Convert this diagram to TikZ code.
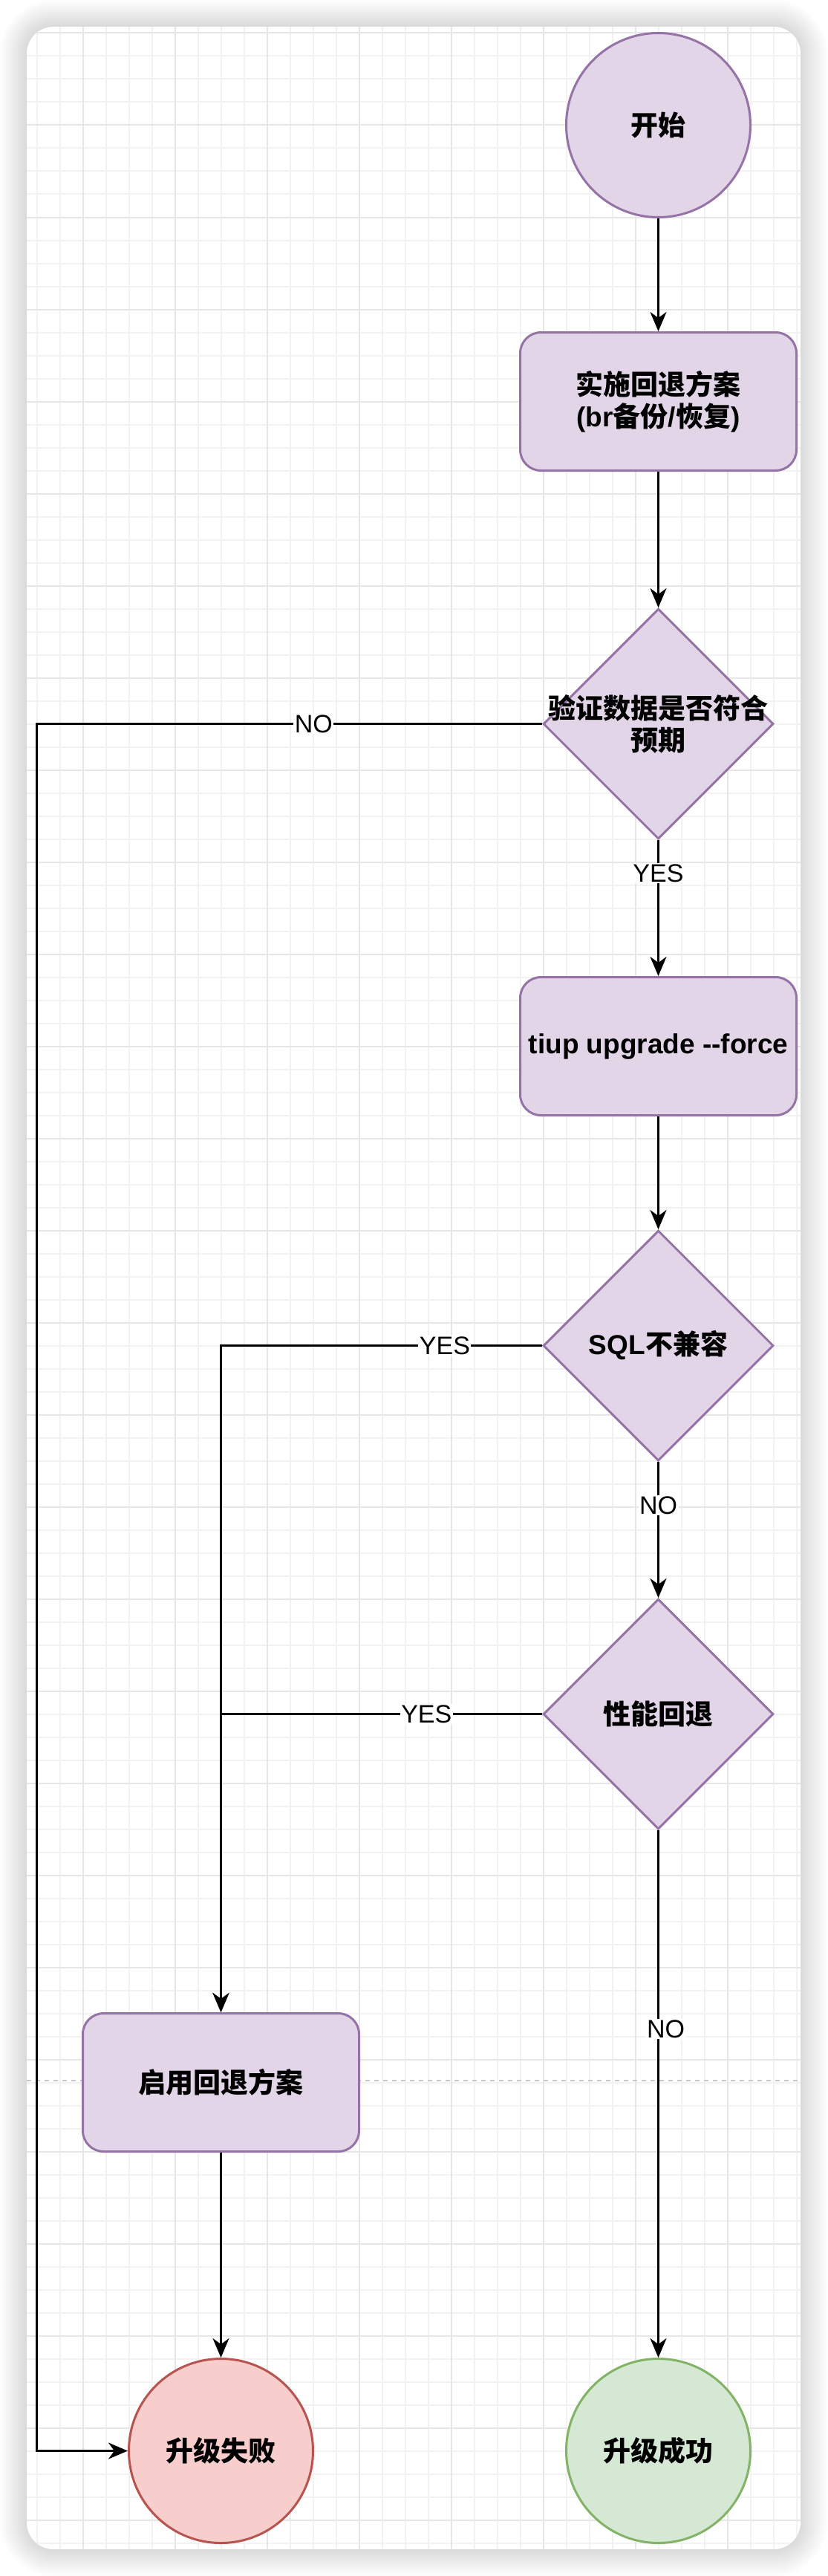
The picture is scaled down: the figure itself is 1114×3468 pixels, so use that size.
\documentclass[tikz,border=0pt]{standalone}
\usepackage{fontspec}
\setmainfont{Liberation Sans}
\newfontfamily\zhfont{Noto Sans CJK SC}
\usetikzlibrary{shapes.geometric,arrows.meta}
\definecolor{pfill}{HTML}{E1D5E7}
\definecolor{pline}{HTML}{9673A6}
\definecolor{rfill}{HTML}{F8CECC}
\definecolor{rline}{HTML}{B85450}
\definecolor{gfill}{HTML}{D5E8D4}
\definecolor{gline}{HTML}{82B366}
\definecolor{gridminor}{HTML}{F2F2F2}
\definecolor{gridmajor}{HTML}{E6E6E6}
\definecolor{pagebreak}{HTML}{C8C8C8}
\newcommand{\zh}[1]{{\zhfont\bfseries #1}}
\begin{document}
\begin{tikzpicture}[x=1pt,y=-1pt,
  nodefont/.style={font=\fontsize{37}{43}\selectfont\bfseries},
  term/.style={circle, minimum size=248pt, inner sep=0pt, line width=3pt, nodefont},
  proc/.style={rectangle, rounded corners=28pt, minimum width=372pt, minimum height=186pt,
    draw=pline, fill=pfill, line width=3pt, align=center, inner sep=0pt, nodefont},
  dia/.style={diamond, minimum width=310pt, minimum height=310pt, inner sep=0pt,
    draw=pline, fill=pfill, line width=3pt},
  dtext/.style={align=center, inner sep=0pt, nodefont},
  lbl/.style={fill=white, inner sep=1.5pt, text=black, font=\fontsize{34}{40}\selectfont},
  conn/.style={line width=3pt, draw=black},
  arr/.style={conn, -{Stealth[length=26pt, width=22pt, inset=8pt]}}
]
\useasboundingbox (0,0) rectangle (1114,3468);
\fill[white] (0,0) rectangle (1114,3468);
% shadow of the card
\foreach \i [evaluate=\i as \r using 36+2*\i] in {1,...,18}{
  \fill[black, opacity=0.009, rounded corners=\r pt] (36-2*\i,36-2*\i) rectangle (1078+2*\i,3432+2*\i);
}
% card with grid
\begin{scope}
  \clip[rounded corners=36pt] (36,36) rectangle (1078,3432);
  \fill[white] (36,36) rectangle (1078,3432);
  \foreach \x in {18.5,49.5,...,1080}{\draw[gridminor, line width=2pt] (\x,36) -- (\x,3432);}
  \foreach \y in {13.5,44.5,...,3440}{\draw[gridminor, line width=2pt] (36,\y) -- (1078,\y);}
  \foreach \x in {111.5,235.5,...,1080}{\draw[gridmajor, line width=2pt] (\x,36) -- (\x,3432);}
  \foreach \y in {44.5,168.5,...,3440}{\draw[gridmajor, line width=2pt] (36,\y) -- (1078,\y);}
  \draw[pagebreak, line width=1.5pt, dash pattern=on 6pt off 6pt] (36,2801) -- (1078,2801);
\end{scope}
% nodes
\node[term, draw=pline, fill=pfill] (start) at (886.5,168.5) {\zh{开始}};
\node[proc] (b1) at (886.5,540.5) {\zh{实施回退方案}\\{\bfseries(br}\zh{备份}{\bfseries/}\zh{恢复}{\bfseries)}};
\node[dia] (d1) at (886.5,974.5) {};
\node[dtext] (t1) at (d1.center) {\zh{验证数据是否符合}\\\zh{预期}};
\node[proc] (b2) at (886.5,1408.5) {tiup upgrade -\kern0pt-force};
\node[dia] (d2) at (886.5,1811.5) {};
\node[dtext] (t2) at (d2.center) {SQL\zh{不兼容}};
\node[dia] (d3) at (886.5,2307.5) {};
\node[dtext] (t3) at (d3.center) {\zh{性能回退}};
\node[proc] (b3) at (297.5,2803.5) {\zh{启用回退方案}};
\node[term, draw=rline, fill=rfill] (fail) at (297.5,3299.5) {\zh{升级失败}};
\node[term, draw=gline, fill=gfill] (succ) at (886.5,3299.5) {\zh{升级成功}};
\coordinate (lt) at (49.5,974.5);
% connectors
\draw[arr] (start) -- (b1);
\draw[arr] (b1) -- (d1);
\draw[arr] (d1) -- node[lbl, pos=0.245] {YES} (b2);
\draw[arr] (b2) -- (d2);
\draw[arr] (d2) -- node[lbl, pos=0.32] {NO} (d3);
\draw[arr] (d1.west) -- node[lbl, pos=0.452] {NO} (lt) |- (fail.west);
\draw[arr] (d2.west) -| node[lbl, pos=0.1515] {YES} (b3.north);
\draw[arr] (d3.west) -| node[lbl, pos=0.18] {YES} (b3.north);
\draw[arr] (b3) -- (fail);
\draw[arr] (d3) -- node[lbl, pos=0.377, xshift=10pt] {NO} (succ);
\end{tikzpicture}
\end{document}
